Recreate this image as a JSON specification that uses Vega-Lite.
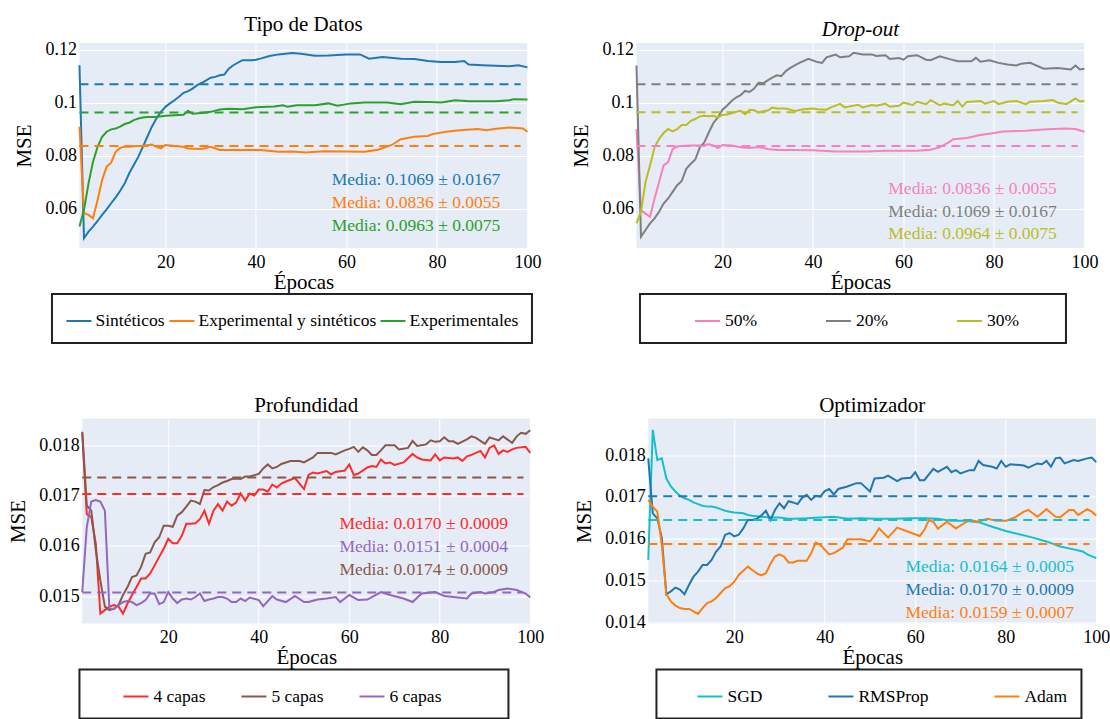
{
"$schema": "https://vega.github.io/schema/vega-lite/v6.json",
"padding": {"left": 7, "top": 13, "right": 0, "bottom": 0},
"autosize": {"type": "pad"},
"background": "white",
"datasets": {
"tipo": [
{"serie":"Sintéticos","epoca":1,"mse":0.1141},{"serie":"Sintéticos","epoca":2,"mse":0.0488},{"serie":"Sintéticos","epoca":3,"mse":0.0513},{"serie":"Sintéticos","epoca":4,"mse":0.0532},{"serie":"Sintéticos","epoca":5,"mse":0.0553},{"serie":"Sintéticos","epoca":6,"mse":0.0576},{"serie":"Sintéticos","epoca":7,"mse":0.0597},{"serie":"Sintéticos","epoca":8,"mse":0.062},{"serie":"Sintéticos","epoca":9,"mse":0.0642},{"serie":"Sintéticos","epoca":10,"mse":0.0667},{"serie":"Sintéticos","epoca":11,"mse":0.0695},{"serie":"Sintéticos","epoca":12,"mse":0.0733},{"serie":"Sintéticos","epoca":13,"mse":0.0764},{"serie":"Sintéticos","epoca":14,"mse":0.0795},{"serie":"Sintéticos","epoca":15,"mse":0.0833},{"serie":"Sintéticos","epoca":16,"mse":0.0871},{"serie":"Sintéticos","epoca":17,"mse":0.0909},{"serie":"Sintéticos","epoca":18,"mse":0.094},{"serie":"Sintéticos","epoca":19,"mse":0.0965},{"serie":"Sintéticos","epoca":20,"mse":0.0984},{"serie":"Sintéticos","epoca":21,"mse":0.0997},{"serie":"Sintéticos","epoca":22,"mse":0.1009},{"serie":"Sintéticos","epoca":23,"mse":0.1022},{"serie":"Sintéticos","epoca":24,"mse":0.1037},{"serie":"Sintéticos","epoca":25,"mse":0.1043},{"serie":"Sintéticos","epoca":26,"mse":0.1053},{"serie":"Sintéticos","epoca":27,"mse":0.1066},{"serie":"Sintéticos","epoca":28,"mse":0.1074},{"serie":"Sintéticos","epoca":29,"mse":0.1084},{"serie":"Sintéticos","epoca":30,"mse":0.1094},{"serie":"Sintéticos","epoca":31,"mse":0.1097},{"serie":"Sintéticos","epoca":32,"mse":0.1103},{"serie":"Sintéticos","epoca":33,"mse":0.1106},{"serie":"Sintéticos","epoca":34,"mse":0.1128},{"serie":"Sintéticos","epoca":35,"mse":0.1141},{"serie":"Sintéticos","epoca":37,"mse":0.116},{"serie":"Sintéticos","epoca":39,"mse":0.116},{"serie":"Sintéticos","epoca":40,"mse":0.1162},{"serie":"Sintéticos","epoca":41,"mse":0.1166},{"serie":"Sintéticos","epoca":43,"mse":0.1176},{"serie":"Sintéticos","epoca":45,"mse":0.1182},{"serie":"Sintéticos","epoca":48,"mse":0.1187},{"serie":"Sintéticos","epoca":50,"mse":0.1184},{"serie":"Sintéticos","epoca":53,"mse":0.1177},{"serie":"Sintéticos","epoca":56,"mse":0.1178},{"serie":"Sintéticos","epoca":60,"mse":0.1182},{"serie":"Sintéticos","epoca":63,"mse":0.1182},{"serie":"Sintéticos","epoca":65,"mse":0.1166},{"serie":"Sintéticos","epoca":68,"mse":0.1172},{"serie":"Sintéticos","epoca":72,"mse":0.1166},{"serie":"Sintéticos","epoca":75,"mse":0.1165},{"serie":"Sintéticos","epoca":78,"mse":0.1157},{"serie":"Sintéticos","epoca":81,"mse":0.1153},{"serie":"Sintéticos","epoca":84,"mse":0.1153},{"serie":"Sintéticos","epoca":86,"mse":0.1157},{"serie":"Sintéticos","epoca":87,"mse":0.1144},{"serie":"Sintéticos","epoca":90,"mse":0.1141},{"serie":"Sintéticos","epoca":93,"mse":0.1139},{"serie":"Sintéticos","epoca":96,"mse":0.1137},{"serie":"Sintéticos","epoca":98,"mse":0.1141},{"serie":"Sintéticos","epoca":100,"mse":0.1133},
{"serie":"Experimental y sintéticos","epoca":1,"mse":0.0909},{"serie":"Experimental y sintéticos","epoca":2,"mse":0.0582},{"serie":"Experimental y sintéticos","epoca":3,"mse":0.0576},{"serie":"Experimental y sintéticos","epoca":4,"mse":0.0563},{"serie":"Experimental y sintéticos","epoca":5,"mse":0.0632},{"serie":"Experimental y sintéticos","epoca":6,"mse":0.0708},{"serie":"Experimental y sintéticos","epoca":7,"mse":0.0758},{"serie":"Experimental y sintéticos","epoca":8,"mse":0.0773},{"serie":"Experimental y sintéticos","epoca":9,"mse":0.0814},{"serie":"Experimental y sintéticos","epoca":10,"mse":0.0829},{"serie":"Experimental y sintéticos","epoca":11,"mse":0.0833},{"serie":"Experimental y sintéticos","epoca":12,"mse":0.0833},{"serie":"Experimental y sintéticos","epoca":13,"mse":0.0835},{"serie":"Experimental y sintéticos","epoca":15,"mse":0.0837},{"serie":"Experimental y sintéticos","epoca":17,"mse":0.0842},{"serie":"Experimental y sintéticos","epoca":18,"mse":0.0833},{"serie":"Experimental y sintéticos","epoca":19,"mse":0.0827},{"serie":"Experimental y sintéticos","epoca":20,"mse":0.084},{"serie":"Experimental y sintéticos","epoca":22,"mse":0.0836},{"serie":"Experimental y sintéticos","epoca":24,"mse":0.0833},{"serie":"Experimental y sintéticos","epoca":25,"mse":0.0827},{"serie":"Experimental y sintéticos","epoca":28,"mse":0.0825},{"serie":"Experimental y sintéticos","epoca":30,"mse":0.0833},{"serie":"Experimental y sintéticos","epoca":32,"mse":0.0821},{"serie":"Experimental y sintéticos","epoca":35,"mse":0.0821},{"serie":"Experimental y sintéticos","epoca":38,"mse":0.0821},{"serie":"Experimental y sintéticos","epoca":41,"mse":0.0821},{"serie":"Experimental y sintéticos","epoca":45,"mse":0.0814},{"serie":"Experimental y sintéticos","epoca":48,"mse":0.0815},{"serie":"Experimental y sintéticos","epoca":51,"mse":0.0812},{"serie":"Experimental y sintéticos","epoca":55,"mse":0.0816},{"serie":"Experimental y sintéticos","epoca":60,"mse":0.0815},{"serie":"Experimental y sintéticos","epoca":64,"mse":0.0814},{"serie":"Experimental y sintéticos","epoca":67,"mse":0.0822},{"serie":"Experimental y sintéticos","epoca":70,"mse":0.084},{"serie":"Experimental y sintéticos","epoca":72,"mse":0.0862},{"serie":"Experimental y sintéticos","epoca":75,"mse":0.0871},{"serie":"Experimental y sintéticos","epoca":78,"mse":0.0874},{"serie":"Experimental y sintéticos","epoca":79,"mse":0.0881},{"serie":"Experimental y sintéticos","epoca":82,"mse":0.089},{"serie":"Experimental y sintéticos","epoca":85,"mse":0.0896},{"serie":"Experimental y sintéticos","epoca":89,"mse":0.09},{"serie":"Experimental y sintéticos","epoca":91,"mse":0.0896},{"serie":"Experimental y sintéticos","epoca":93,"mse":0.0901},{"serie":"Experimental y sintéticos","epoca":96,"mse":0.0906},{"serie":"Experimental y sintéticos","epoca":99,"mse":0.0902},{"serie":"Experimental y sintéticos","epoca":100,"mse":0.089},
{"serie":"Experimentales","epoca":1,"mse":0.0532},{"serie":"Experimentales","epoca":2,"mse":0.0595},{"serie":"Experimentales","epoca":3,"mse":0.0695},{"serie":"Experimentales","epoca":4,"mse":0.0777},{"serie":"Experimentales","epoca":5,"mse":0.0833},{"serie":"Experimentales","epoca":6,"mse":0.0871},{"serie":"Experimentales","epoca":7,"mse":0.089},{"serie":"Experimentales","epoca":8,"mse":0.0899},{"serie":"Experimentales","epoca":9,"mse":0.0902},{"serie":"Experimentales","epoca":10,"mse":0.0909},{"serie":"Experimentales","epoca":11,"mse":0.0919},{"serie":"Experimentales","epoca":12,"mse":0.0924},{"serie":"Experimentales","epoca":13,"mse":0.0934},{"serie":"Experimentales","epoca":14,"mse":0.094},{"serie":"Experimentales","epoca":15,"mse":0.0944},{"serie":"Experimentales","epoca":16,"mse":0.0946},{"serie":"Experimentales","epoca":18,"mse":0.0946},{"serie":"Experimentales","epoca":20,"mse":0.095},{"serie":"Experimentales","epoca":22,"mse":0.0952},{"serie":"Experimentales","epoca":24,"mse":0.0954},{"serie":"Experimentales","epoca":25,"mse":0.0969},{"serie":"Experimentales","epoca":26,"mse":0.0958},{"serie":"Experimentales","epoca":28,"mse":0.0961},{"serie":"Experimentales","epoca":30,"mse":0.0965},{"serie":"Experimentales","epoca":32,"mse":0.0974},{"serie":"Experimentales","epoca":34,"mse":0.0977},{"serie":"Experimentales","epoca":37,"mse":0.0975},{"serie":"Experimentales","epoca":40,"mse":0.0982},{"serie":"Experimentales","epoca":44,"mse":0.0985},{"serie":"Experimentales","epoca":46,"mse":0.099},{"serie":"Experimentales","epoca":47,"mse":0.0984},{"serie":"Experimentales","epoca":49,"mse":0.099},{"serie":"Experimentales","epoca":53,"mse":0.099},{"serie":"Experimentales","epoca":56,"mse":0.0997},{"serie":"Experimentales","epoca":58,"mse":0.0988},{"serie":"Experimentales","epoca":61,"mse":0.0997},{"serie":"Experimentales","epoca":64,"mse":0.1},{"serie":"Experimentales","epoca":66,"mse":0.1},{"serie":"Experimentales","epoca":69,"mse":0.1},{"serie":"Experimentales","epoca":72,"mse":0.0994},{"serie":"Experimentales","epoca":75,"mse":0.1003},{"serie":"Experimentales","epoca":78,"mse":0.1002},{"serie":"Experimentales","epoca":81,"mse":0.1},{"serie":"Experimentales","epoca":84,"mse":0.1009},{"serie":"Experimentales","epoca":87,"mse":0.1005},{"serie":"Experimentales","epoca":90,"mse":0.1005},{"serie":"Experimentales","epoca":93,"mse":0.1005},{"serie":"Experimentales","epoca":96,"mse":0.1009},{"serie":"Experimentales","epoca":97,"mse":0.1013},{"serie":"Experimentales","epoca":100,"mse":0.1012}
],
"tipo_media": [
{"serie":"Sintéticos","media":0.1069,"etiqueta":"Media: 0.1069 ± 0.0167"},
{"serie":"Experimental y sintéticos","media":0.0836,"etiqueta":"Media: 0.0836 ± 0.0055"},
{"serie":"Experimentales","media":0.0963,"etiqueta":"Media: 0.0963 ± 0.0075"}
],
"drop": [
{"serie":"50%","epoca":1,"mse":0.09},{"serie":"50%","epoca":2,"mse":0.0594},{"serie":"50%","epoca":3,"mse":0.0581},{"serie":"50%","epoca":4,"mse":0.0569},{"serie":"50%","epoca":5,"mse":0.0638},{"serie":"50%","epoca":6,"mse":0.07},{"serie":"50%","epoca":7,"mse":0.0763},{"serie":"50%","epoca":8,"mse":0.0775},{"serie":"50%","epoca":9,"mse":0.0825},{"serie":"50%","epoca":10,"mse":0.0834},{"serie":"50%","epoca":11,"mse":0.0836},{"serie":"50%","epoca":13,"mse":0.0838},{"serie":"50%","epoca":15,"mse":0.0838},{"serie":"50%","epoca":17,"mse":0.0843},{"serie":"50%","epoca":18,"mse":0.0838},{"serie":"50%","epoca":19,"mse":0.0828},{"serie":"50%","epoca":20,"mse":0.084},{"serie":"50%","epoca":22,"mse":0.0838},{"serie":"50%","epoca":24,"mse":0.0831},{"serie":"50%","epoca":26,"mse":0.0829},{"serie":"50%","epoca":28,"mse":0.0832},{"serie":"50%","epoca":30,"mse":0.0825},{"serie":"50%","epoca":32,"mse":0.0821},{"serie":"50%","epoca":35,"mse":0.0821},{"serie":"50%","epoca":40,"mse":0.082},{"serie":"50%","epoca":45,"mse":0.0815},{"serie":"50%","epoca":52,"mse":0.0815},{"serie":"50%","epoca":56,"mse":0.0818},{"serie":"50%","epoca":63,"mse":0.0818},{"serie":"50%","epoca":66,"mse":0.0822},{"serie":"50%","epoca":68,"mse":0.0831},{"serie":"50%","epoca":70,"mse":0.085},{"serie":"50%","epoca":71,"mse":0.0862},{"serie":"50%","epoca":74,"mse":0.0866},{"serie":"50%","epoca":77,"mse":0.0878},{"serie":"50%","epoca":80,"mse":0.0885},{"serie":"50%","epoca":82,"mse":0.0891},{"serie":"50%","epoca":87,"mse":0.0894},{"serie":"50%","epoca":90,"mse":0.0897},{"serie":"50%","epoca":93,"mse":0.09},{"serie":"50%","epoca":96,"mse":0.0902},{"serie":"50%","epoca":98,"mse":0.09},{"serie":"50%","epoca":100,"mse":0.089},
{"serie":"20%","epoca":1,"mse":0.114},{"serie":"20%","epoca":2,"mse":0.0494},{"serie":"20%","epoca":3,"mse":0.0519},{"serie":"20%","epoca":4,"mse":0.0544},{"serie":"20%","epoca":5,"mse":0.0563},{"serie":"20%","epoca":6,"mse":0.0588},{"serie":"20%","epoca":7,"mse":0.0619},{"serie":"20%","epoca":8,"mse":0.0638},{"serie":"20%","epoca":9,"mse":0.0663},{"serie":"20%","epoca":10,"mse":0.0688},{"serie":"20%","epoca":11,"mse":0.0704},{"serie":"20%","epoca":12,"mse":0.075},{"serie":"20%","epoca":13,"mse":0.0769},{"serie":"20%","epoca":14,"mse":0.0785},{"serie":"20%","epoca":15,"mse":0.0831},{"serie":"20%","epoca":16,"mse":0.085},{"serie":"20%","epoca":17,"mse":0.0888},{"serie":"20%","epoca":18,"mse":0.0923},{"serie":"20%","epoca":19,"mse":0.0944},{"serie":"20%","epoca":20,"mse":0.0973},{"serie":"20%","epoca":21,"mse":0.0988},{"serie":"20%","epoca":22,"mse":0.1006},{"serie":"20%","epoca":23,"mse":0.1019},{"serie":"20%","epoca":24,"mse":0.1028},{"serie":"20%","epoca":25,"mse":0.1044},{"serie":"20%","epoca":26,"mse":0.104},{"serie":"20%","epoca":27,"mse":0.1053},{"serie":"20%","epoca":28,"mse":0.1075},{"serie":"20%","epoca":29,"mse":0.1073},{"serie":"20%","epoca":30,"mse":0.1084},{"serie":"20%","epoca":31,"mse":0.1094},{"serie":"20%","epoca":32,"mse":0.1103},{"serie":"20%","epoca":33,"mse":0.11},{"serie":"20%","epoca":34,"mse":0.1119},{"serie":"20%","epoca":35,"mse":0.1131},{"serie":"20%","epoca":37,"mse":0.115},{"serie":"20%","epoca":39,"mse":0.1165},{"serie":"20%","epoca":41,"mse":0.1153},{"serie":"20%","epoca":42,"mse":0.115},{"serie":"20%","epoca":43,"mse":0.1171},{"serie":"20%","epoca":45,"mse":0.1181},{"serie":"20%","epoca":46,"mse":0.1171},{"serie":"20%","epoca":48,"mse":0.1175},{"serie":"20%","epoca":49,"mse":0.1188},{"serie":"20%","epoca":51,"mse":0.1182},{"serie":"20%","epoca":53,"mse":0.1182},{"serie":"20%","epoca":54,"mse":0.1176},{"serie":"20%","epoca":56,"mse":0.1179},{"serie":"20%","epoca":57,"mse":0.1165},{"serie":"20%","epoca":59,"mse":0.1168},{"serie":"20%","epoca":60,"mse":0.1162},{"serie":"20%","epoca":61,"mse":0.1175},{"serie":"20%","epoca":63,"mse":0.1179},{"serie":"20%","epoca":65,"mse":0.1162},{"serie":"20%","epoca":66,"mse":0.116},{"serie":"20%","epoca":68,"mse":0.1175},{"serie":"20%","epoca":70,"mse":0.1165},{"serie":"20%","epoca":72,"mse":0.1156},{"serie":"20%","epoca":75,"mse":0.1156},{"serie":"20%","epoca":76,"mse":0.1169},{"serie":"20%","epoca":77,"mse":0.1154},{"serie":"20%","epoca":79,"mse":0.116},{"serie":"20%","epoca":81,"mse":0.115},{"serie":"20%","epoca":83,"mse":0.1144},{"serie":"20%","epoca":85,"mse":0.114},{"serie":"20%","epoca":86,"mse":0.1147},{"serie":"20%","epoca":88,"mse":0.115},{"serie":"20%","epoca":91,"mse":0.1128},{"serie":"20%","epoca":94,"mse":0.1131},{"serie":"20%","epoca":97,"mse":0.1125},{"serie":"20%","epoca":98,"mse":0.114},{"serie":"20%","epoca":99,"mse":0.1125},{"serie":"20%","epoca":100,"mse":0.1128},
{"serie":"30%","epoca":1,"mse":0.0544},{"serie":"30%","epoca":2,"mse":0.0588},{"serie":"30%","epoca":3,"mse":0.07},{"serie":"30%","epoca":4,"mse":0.0763},{"serie":"30%","epoca":5,"mse":0.0831},{"serie":"30%","epoca":6,"mse":0.0863},{"serie":"30%","epoca":7,"mse":0.0885},{"serie":"30%","epoca":8,"mse":0.09},{"serie":"30%","epoca":9,"mse":0.0891},{"serie":"30%","epoca":10,"mse":0.09},{"serie":"30%","epoca":11,"mse":0.0915},{"serie":"30%","epoca":12,"mse":0.0915},{"serie":"30%","epoca":13,"mse":0.0931},{"serie":"30%","epoca":14,"mse":0.0938},{"serie":"30%","epoca":15,"mse":0.0948},{"serie":"30%","epoca":16,"mse":0.095},{"serie":"30%","epoca":17,"mse":0.0948},{"serie":"30%","epoca":18,"mse":0.095},{"serie":"30%","epoca":19,"mse":0.0944},{"serie":"30%","epoca":20,"mse":0.0953},{"serie":"30%","epoca":21,"mse":0.0955},{"serie":"30%","epoca":22,"mse":0.096},{"serie":"30%","epoca":23,"mse":0.0965},{"serie":"30%","epoca":24,"mse":0.0969},{"serie":"30%","epoca":25,"mse":0.0956},{"serie":"30%","epoca":26,"mse":0.0973},{"serie":"30%","epoca":27,"mse":0.0971},{"serie":"30%","epoca":28,"mse":0.0963},{"serie":"30%","epoca":29,"mse":0.0967},{"serie":"30%","epoca":30,"mse":0.097},{"serie":"30%","epoca":31,"mse":0.0981},{"serie":"30%","epoca":32,"mse":0.0978},{"serie":"30%","epoca":34,"mse":0.0978},{"serie":"30%","epoca":36,"mse":0.0968},{"serie":"30%","epoca":38,"mse":0.0975},{"serie":"30%","epoca":40,"mse":0.0978},{"serie":"30%","epoca":41,"mse":0.0975},{"serie":"30%","epoca":43,"mse":0.0973},{"serie":"30%","epoca":44,"mse":0.0982},{"serie":"30%","epoca":46,"mse":0.0995},{"serie":"30%","epoca":47,"mse":0.0982},{"serie":"30%","epoca":50,"mse":0.0992},{"serie":"30%","epoca":51,"mse":0.0982},{"serie":"30%","epoca":53,"mse":0.0991},{"serie":"30%","epoca":54,"mse":0.0988},{"serie":"30%","epoca":56,"mse":0.0996},{"serie":"30%","epoca":57,"mse":0.0984},{"serie":"30%","epoca":59,"mse":0.0988},{"serie":"30%","epoca":60,"mse":0.1},{"serie":"30%","epoca":62,"mse":0.0991},{"serie":"30%","epoca":63,"mse":0.1003},{"serie":"30%","epoca":65,"mse":0.0994},{"serie":"30%","epoca":66,"mse":0.1009},{"serie":"30%","epoca":68,"mse":0.099},{"serie":"30%","epoca":69,"mse":0.0996},{"serie":"30%","epoca":71,"mse":0.099},{"serie":"30%","epoca":72,"mse":0.1006},{"serie":"30%","epoca":73,"mse":0.0985},{"serie":"30%","epoca":74,"mse":0.1003},{"serie":"30%","epoca":75,"mse":0.1003},{"serie":"30%","epoca":77,"mse":0.1006},{"serie":"30%","epoca":78,"mse":0.0996},{"serie":"30%","epoca":80,"mse":0.1006},{"serie":"30%","epoca":81,"mse":0.0994},{"serie":"30%","epoca":83,"mse":0.1003},{"serie":"30%","epoca":85,"mse":0.1006},{"serie":"30%","epoca":87,"mse":0.0994},{"serie":"30%","epoca":88,"mse":0.1003},{"serie":"30%","epoca":91,"mse":0.1006},{"serie":"30%","epoca":93,"mse":0.101},{"serie":"30%","epoca":94,"mse":0.1},{"serie":"30%","epoca":96,"mse":0.0994},{"serie":"30%","epoca":98,"mse":0.1016},{"serie":"30%","epoca":99,"mse":0.1004},{"serie":"30%","epoca":100,"mse":0.1006}
],
"drop_media": [
{"serie":"50%","media":0.0836,"etiqueta":"Media: 0.0836 ± 0.0055"},
{"serie":"20%","media":0.1069,"etiqueta":"Media: 0.1069 ± 0.0167"},
{"serie":"30%","media":0.0964,"etiqueta":"Media: 0.0964 ± 0.0075"}
],
"prof": [
{"serie":"4 capas","epoca":1,"mse":0.01825},{"serie":"4 capas","epoca":2,"mse":0.01663},{"serie":"4 capas","epoca":3,"mse":0.01657},{"serie":"4 capas","epoca":4,"mse":0.01604},{"serie":"4 capas","epoca":5,"mse":0.01465},{"serie":"4 capas","epoca":6,"mse":0.01472},{"serie":"4 capas","epoca":7,"mse":0.01479},{"serie":"4 capas","epoca":8,"mse":0.01482},{"serie":"4 capas","epoca":9,"mse":0.01479},{"serie":"4 capas","epoca":10,"mse":0.01465},{"serie":"4 capas","epoca":11,"mse":0.01485},{"serie":"4 capas","epoca":12,"mse":0.01502},{"serie":"4 capas","epoca":13,"mse":0.01518},{"serie":"4 capas","epoca":14,"mse":0.01535},{"serie":"4 capas","epoca":15,"mse":0.01535},{"serie":"4 capas","epoca":16,"mse":0.01545},{"serie":"4 capas","epoca":17,"mse":0.01561},{"serie":"4 capas","epoca":18,"mse":0.01578},{"serie":"4 capas","epoca":19,"mse":0.01594},{"serie":"4 capas","epoca":20,"mse":0.01614},{"serie":"4 capas","epoca":21,"mse":0.01605},{"serie":"4 capas","epoca":22,"mse":0.01605},{"serie":"4 capas","epoca":23,"mse":0.0162},{"serie":"4 capas","epoca":24,"mse":0.01644},{"serie":"4 capas","epoca":25,"mse":0.01644},{"serie":"4 capas","epoca":26,"mse":0.01645},{"serie":"4 capas","epoca":27,"mse":0.01653},{"serie":"4 capas","epoca":28,"mse":0.0167},{"serie":"4 capas","epoca":29,"mse":0.01644},{"serie":"4 capas","epoca":30,"mse":0.0167},{"serie":"4 capas","epoca":31,"mse":0.01683},{"serie":"4 capas","epoca":32,"mse":0.0167},{"serie":"4 capas","epoca":33,"mse":0.01688},{"serie":"4 capas","epoca":34,"mse":0.0168},{"serie":"4 capas","epoca":35,"mse":0.01686},{"serie":"4 capas","epoca":36,"mse":0.01704},{"serie":"4 capas","epoca":37,"mse":0.0169},{"serie":"4 capas","epoca":38,"mse":0.01704},{"serie":"4 capas","epoca":39,"mse":0.017},{"serie":"4 capas","epoca":40,"mse":0.01712},{"serie":"4 capas","epoca":41,"mse":0.01712},{"serie":"4 capas","epoca":42,"mse":0.01708},{"serie":"4 capas","epoca":43,"mse":0.01722},{"serie":"4 capas","epoca":44,"mse":0.01716},{"serie":"4 capas","epoca":45,"mse":0.01724},{"serie":"4 capas","epoca":46,"mse":0.01728},{"serie":"4 capas","epoca":48,"mse":0.01735},{"serie":"4 capas","epoca":50,"mse":0.01713},{"serie":"4 capas","epoca":51,"mse":0.01741},{"serie":"4 capas","epoca":52,"mse":0.01746},{"serie":"4 capas","epoca":53,"mse":0.01744},{"serie":"4 capas","epoca":55,"mse":0.01749},{"serie":"4 capas","epoca":56,"mse":0.01742},{"serie":"4 capas","epoca":57,"mse":0.01747},{"serie":"4 capas","epoca":59,"mse":0.0175},{"serie":"4 capas","epoca":60,"mse":0.01762},{"serie":"4 capas","epoca":61,"mse":0.01741},{"serie":"4 capas","epoca":62,"mse":0.01744},{"serie":"4 capas","epoca":64,"mse":0.01756},{"serie":"4 capas","epoca":65,"mse":0.01759},{"serie":"4 capas","epoca":66,"mse":0.01757},{"serie":"4 capas","epoca":67,"mse":0.01772},{"serie":"4 capas","epoca":68,"mse":0.01764},{"serie":"4 capas","epoca":69,"mse":0.01766},{"serie":"4 capas","epoca":70,"mse":0.01761},{"serie":"4 capas","epoca":72,"mse":0.01766},{"serie":"4 capas","epoca":74,"mse":0.01783},{"serie":"4 capas","epoca":75,"mse":0.01776},{"serie":"4 capas","epoca":76,"mse":0.01772},{"serie":"4 capas","epoca":78,"mse":0.0177},{"serie":"4 capas","epoca":79,"mse":0.01782},{"serie":"4 capas","epoca":80,"mse":0.0177},{"serie":"4 capas","epoca":81,"mse":0.01776},{"serie":"4 capas","epoca":83,"mse":0.01774},{"serie":"4 capas","epoca":84,"mse":0.01776},{"serie":"4 capas","epoca":85,"mse":0.01769},{"serie":"4 capas","epoca":86,"mse":0.01778},{"serie":"4 capas","epoca":87,"mse":0.01781},{"serie":"4 capas","epoca":89,"mse":0.01789},{"serie":"4 capas","epoca":90,"mse":0.01776},{"serie":"4 capas","epoca":91,"mse":0.01795},{"serie":"4 capas","epoca":92,"mse":0.018},{"serie":"4 capas","epoca":93,"mse":0.01783},{"serie":"4 capas","epoca":94,"mse":0.0179},{"serie":"4 capas","epoca":95,"mse":0.01787},{"serie":"4 capas","epoca":96,"mse":0.01792},{"serie":"4 capas","epoca":97,"mse":0.01795},{"serie":"4 capas","epoca":99,"mse":0.01797},{"serie":"4 capas","epoca":100,"mse":0.01785},
{"serie":"5 capas","epoca":1,"mse":0.01827},{"serie":"5 capas","epoca":2,"mse":0.0168},{"serie":"5 capas","epoca":3,"mse":0.0167},{"serie":"5 capas","epoca":4,"mse":0.01591},{"serie":"5 capas","epoca":5,"mse":0.01531},{"serie":"5 capas","epoca":6,"mse":0.01479},{"serie":"5 capas","epoca":7,"mse":0.01472},{"serie":"5 capas","epoca":8,"mse":0.01475},{"serie":"5 capas","epoca":9,"mse":0.01482},{"serie":"5 capas","epoca":10,"mse":0.01502},{"serie":"5 capas","epoca":11,"mse":0.01518},{"serie":"5 capas","epoca":12,"mse":0.01538},{"serie":"5 capas","epoca":13,"mse":0.01541},{"serie":"5 capas","epoca":14,"mse":0.01558},{"serie":"5 capas","epoca":15,"mse":0.01584},{"serie":"5 capas","epoca":16,"mse":0.01587},{"serie":"5 capas","epoca":17,"mse":0.01607},{"serie":"5 capas","epoca":18,"mse":0.01617},{"serie":"5 capas","epoca":19,"mse":0.0164},{"serie":"5 capas","epoca":20,"mse":0.0164},{"serie":"5 capas","epoca":21,"mse":0.01638},{"serie":"5 capas","epoca":22,"mse":0.0166},{"serie":"5 capas","epoca":23,"mse":0.01667},{"serie":"5 capas","epoca":24,"mse":0.01678},{"serie":"5 capas","epoca":25,"mse":0.0169},{"serie":"5 capas","epoca":26,"mse":0.01688},{"serie":"5 capas","epoca":27,"mse":0.01683},{"serie":"5 capas","epoca":28,"mse":0.01711},{"serie":"5 capas","epoca":29,"mse":0.0171},{"serie":"5 capas","epoca":30,"mse":0.01717},{"serie":"5 capas","epoca":31,"mse":0.01721},{"serie":"5 capas","epoca":32,"mse":0.01726},{"serie":"5 capas","epoca":33,"mse":0.01729},{"serie":"5 capas","epoca":34,"mse":0.01733},{"serie":"5 capas","epoca":35,"mse":0.01734},{"serie":"5 capas","epoca":36,"mse":0.01733},{"serie":"5 capas","epoca":37,"mse":0.01738},{"serie":"5 capas","epoca":38,"mse":0.01738},{"serie":"5 capas","epoca":40,"mse":0.01743},{"serie":"5 capas","epoca":41,"mse":0.01754},{"serie":"5 capas","epoca":42,"mse":0.01762},{"serie":"5 capas","epoca":43,"mse":0.01754},{"serie":"5 capas","epoca":44,"mse":0.01757},{"serie":"5 capas","epoca":45,"mse":0.01763},{"serie":"5 capas","epoca":47,"mse":0.01769},{"serie":"5 capas","epoca":49,"mse":0.01769},{"serie":"5 capas","epoca":50,"mse":0.01766},{"serie":"5 capas","epoca":52,"mse":0.01776},{"serie":"5 capas","epoca":53,"mse":0.01785},{"serie":"5 capas","epoca":55,"mse":0.01785},{"serie":"5 capas","epoca":56,"mse":0.01785},{"serie":"5 capas","epoca":57,"mse":0.01782},{"serie":"5 capas","epoca":59,"mse":0.0179},{"serie":"5 capas","epoca":60,"mse":0.01793},{"serie":"5 capas","epoca":61,"mse":0.01797},{"serie":"5 capas","epoca":62,"mse":0.01787},{"serie":"5 capas","epoca":63,"mse":0.01796},{"serie":"5 capas","epoca":64,"mse":0.0179},{"serie":"5 capas","epoca":65,"mse":0.01781},{"serie":"5 capas","epoca":66,"mse":0.01781},{"serie":"5 capas","epoca":67,"mse":0.0179},{"serie":"5 capas","epoca":68,"mse":0.018},{"serie":"5 capas","epoca":70,"mse":0.018},{"serie":"5 capas","epoca":71,"mse":0.01792},{"serie":"5 capas","epoca":73,"mse":0.01795},{"serie":"5 capas","epoca":74,"mse":0.01809},{"serie":"5 capas","epoca":75,"mse":0.01799},{"serie":"5 capas","epoca":77,"mse":0.01802},{"serie":"5 capas","epoca":78,"mse":0.0181},{"serie":"5 capas","epoca":79,"mse":0.01807},{"serie":"5 capas","epoca":80,"mse":0.01808},{"serie":"5 capas","epoca":81,"mse":0.01816},{"serie":"5 capas","epoca":82,"mse":0.01808},{"serie":"5 capas","epoca":83,"mse":0.01808},{"serie":"5 capas","epoca":84,"mse":0.01803},{"serie":"5 capas","epoca":86,"mse":0.01812},{"serie":"5 capas","epoca":87,"mse":0.01818},{"serie":"5 capas","epoca":88,"mse":0.01815},{"serie":"5 capas","epoca":90,"mse":0.01803},{"serie":"5 capas","epoca":91,"mse":0.01816},{"serie":"5 capas","epoca":93,"mse":0.0181},{"serie":"5 capas","epoca":94,"mse":0.01818},{"serie":"5 capas","epoca":96,"mse":0.01805},{"serie":"5 capas","epoca":97,"mse":0.01818},{"serie":"5 capas","epoca":98,"mse":0.01825},{"serie":"5 capas","epoca":99,"mse":0.01823},{"serie":"5 capas","epoca":100,"mse":0.0183},
{"serie":"6 capas","epoca":1,"mse":0.01508},{"serie":"6 capas","epoca":2,"mse":0.01637},{"serie":"6 capas","epoca":3,"mse":0.01688},{"serie":"6 capas","epoca":4,"mse":0.01691},{"serie":"6 capas","epoca":5,"mse":0.01688},{"serie":"6 capas","epoca":6,"mse":0.0167},{"serie":"6 capas","epoca":7,"mse":0.01475},{"serie":"6 capas","epoca":8,"mse":0.01474},{"serie":"6 capas","epoca":9,"mse":0.01482},{"serie":"6 capas","epoca":10,"mse":0.01488},{"serie":"6 capas","epoca":11,"mse":0.0149},{"serie":"6 capas","epoca":12,"mse":0.01488},{"serie":"6 capas","epoca":13,"mse":0.01482},{"serie":"6 capas","epoca":14,"mse":0.01486},{"serie":"6 capas","epoca":15,"mse":0.01492},{"serie":"6 capas","epoca":16,"mse":0.01505},{"serie":"6 capas","epoca":17,"mse":0.01505},{"serie":"6 capas","epoca":18,"mse":0.01484},{"serie":"6 capas","epoca":19,"mse":0.01488},{"serie":"6 capas","epoca":20,"mse":0.01508},{"serie":"6 capas","epoca":21,"mse":0.01495},{"serie":"6 capas","epoca":22,"mse":0.01486},{"serie":"6 capas","epoca":23,"mse":0.01493},{"serie":"6 capas","epoca":24,"mse":0.01495},{"serie":"6 capas","epoca":25,"mse":0.01493},{"serie":"6 capas","epoca":26,"mse":0.01498},{"serie":"6 capas","epoca":27,"mse":0.01505},{"serie":"6 capas","epoca":28,"mse":0.0149},{"serie":"6 capas","epoca":29,"mse":0.01493},{"serie":"6 capas","epoca":30,"mse":0.01495},{"serie":"6 capas","epoca":31,"mse":0.01498},{"serie":"6 capas","epoca":32,"mse":0.01498},{"serie":"6 capas","epoca":33,"mse":0.01495},{"serie":"6 capas","epoca":34,"mse":0.01488},{"serie":"6 capas","epoca":35,"mse":0.01488},{"serie":"6 capas","epoca":36,"mse":0.01495},{"serie":"6 capas","epoca":37,"mse":0.0149},{"serie":"6 capas","epoca":38,"mse":0.01497},{"serie":"6 capas","epoca":40,"mse":0.01492},{"serie":"6 capas","epoca":41,"mse":0.0148},{"serie":"6 capas","epoca":43,"mse":0.015},{"serie":"6 capas","epoca":44,"mse":0.01493},{"serie":"6 capas","epoca":46,"mse":0.01488},{"serie":"6 capas","epoca":48,"mse":0.015},{"serie":"6 capas","epoca":50,"mse":0.01488},{"serie":"6 capas","epoca":51,"mse":0.01488},{"serie":"6 capas","epoca":53,"mse":0.01493},{"serie":"6 capas","epoca":55,"mse":0.01495},{"serie":"6 capas","epoca":57,"mse":0.01498},{"serie":"6 capas","epoca":58,"mse":0.01488},{"serie":"6 capas","epoca":59,"mse":0.01495},{"serie":"6 capas","epoca":60,"mse":0.01502},{"serie":"6 capas","epoca":62,"mse":0.01492},{"serie":"6 capas","epoca":64,"mse":0.01493},{"serie":"6 capas","epoca":65,"mse":0.01498},{"serie":"6 capas","epoca":67,"mse":0.01508},{"serie":"6 capas","epoca":69,"mse":0.01502},{"serie":"6 capas","epoca":72,"mse":0.01495},{"serie":"6 capas","epoca":74,"mse":0.01488},{"serie":"6 capas","epoca":76,"mse":0.01505},{"serie":"6 capas","epoca":79,"mse":0.01508},{"serie":"6 capas","epoca":81,"mse":0.015},{"serie":"6 capas","epoca":83,"mse":0.01498},{"serie":"6 capas","epoca":86,"mse":0.01495},{"serie":"6 capas","epoca":87,"mse":0.01505},{"serie":"6 capas","epoca":89,"mse":0.01508},{"serie":"6 capas","epoca":90,"mse":0.01505},{"serie":"6 capas","epoca":92,"mse":0.01508},{"serie":"6 capas","epoca":93,"mse":0.01512},{"serie":"6 capas","epoca":95,"mse":0.01515},{"serie":"6 capas","epoca":97,"mse":0.01512},{"serie":"6 capas","epoca":99,"mse":0.01505},{"serie":"6 capas","epoca":100,"mse":0.01497}
],
"prof_media": [
{"serie":"4 capas","media":0.01703,"etiqueta":"Media: 0.0170 ± 0.0009"},
{"serie":"6 capas","media":0.01507,"etiqueta":"Media: 0.0151 ± 0.0004"},
{"serie":"5 capas","media":0.01736,"etiqueta":"Media: 0.0174 ± 0.0009"}
],
"opt": [
{"serie":"SGD","epoca":1,"mse":0.0155},{"serie":"SGD","epoca":2,"mse":0.0186},{"serie":"SGD","epoca":3,"mse":0.01788},{"serie":"SGD","epoca":4,"mse":0.01792},{"serie":"SGD","epoca":5,"mse":0.01744},{"serie":"SGD","epoca":6,"mse":0.01725},{"serie":"SGD","epoca":7,"mse":0.01713},{"serie":"SGD","epoca":8,"mse":0.01703},{"serie":"SGD","epoca":9,"mse":0.01697},{"serie":"SGD","epoca":10,"mse":0.01693},{"serie":"SGD","epoca":11,"mse":0.01687},{"serie":"SGD","epoca":12,"mse":0.01683},{"serie":"SGD","epoca":13,"mse":0.01679},{"serie":"SGD","epoca":14,"mse":0.01677},{"serie":"SGD","epoca":15,"mse":0.01677},{"serie":"SGD","epoca":16,"mse":0.01675},{"serie":"SGD","epoca":17,"mse":0.01671},{"serie":"SGD","epoca":18,"mse":0.01667},{"serie":"SGD","epoca":19,"mse":0.01665},{"serie":"SGD","epoca":20,"mse":0.01663},{"serie":"SGD","epoca":22,"mse":0.01661},{"serie":"SGD","epoca":23,"mse":0.01657},{"serie":"SGD","epoca":24,"mse":0.01655},{"serie":"SGD","epoca":26,"mse":0.01653},{"serie":"SGD","epoca":28,"mse":0.01651},{"serie":"SGD","epoca":30,"mse":0.01651},{"serie":"SGD","epoca":32,"mse":0.01648},{"serie":"SGD","epoca":33,"mse":0.01648},{"serie":"SGD","epoca":36,"mse":0.01649},{"serie":"SGD","epoca":39,"mse":0.01651},{"serie":"SGD","epoca":42,"mse":0.01653},{"serie":"SGD","epoca":45,"mse":0.01648},{"serie":"SGD","epoca":48,"mse":0.01649},{"serie":"SGD","epoca":51,"mse":0.01648},{"serie":"SGD","epoca":55,"mse":0.01648},{"serie":"SGD","epoca":59,"mse":0.01649},{"serie":"SGD","epoca":62,"mse":0.01649},{"serie":"SGD","epoca":65,"mse":0.01648},{"serie":"SGD","epoca":68,"mse":0.01643},{"serie":"SGD","epoca":71,"mse":0.01643},{"serie":"SGD","epoca":74,"mse":0.0164},{"serie":"SGD","epoca":77,"mse":0.01629},{"serie":"SGD","epoca":80,"mse":0.01619},{"serie":"SGD","epoca":83,"mse":0.01611},{"serie":"SGD","epoca":86,"mse":0.01603},{"serie":"SGD","epoca":89,"mse":0.01594},{"serie":"SGD","epoca":92,"mse":0.01582},{"serie":"SGD","epoca":95,"mse":0.01575},{"serie":"SGD","epoca":97,"mse":0.0157},{"serie":"SGD","epoca":98,"mse":0.01563},{"serie":"SGD","epoca":100,"mse":0.01554},
{"serie":"RMSProp","epoca":1,"mse":0.01792},{"serie":"RMSProp","epoca":2,"mse":0.01661},{"serie":"RMSProp","epoca":3,"mse":0.01649},{"serie":"RMSProp","epoca":4,"mse":0.01602},{"serie":"RMSProp","epoca":5,"mse":0.01468},{"serie":"RMSProp","epoca":6,"mse":0.01475},{"serie":"RMSProp","epoca":7,"mse":0.01484},{"serie":"RMSProp","epoca":8,"mse":0.01479},{"serie":"RMSProp","epoca":9,"mse":0.01468},{"serie":"RMSProp","epoca":10,"mse":0.0149},{"serie":"RMSProp","epoca":11,"mse":0.0151},{"serie":"RMSProp","epoca":12,"mse":0.01522},{"serie":"RMSProp","epoca":13,"mse":0.01538},{"serie":"RMSProp","epoca":14,"mse":0.01538},{"serie":"RMSProp","epoca":15,"mse":0.0155},{"serie":"RMSProp","epoca":16,"mse":0.0157},{"serie":"RMSProp","epoca":17,"mse":0.01582},{"serie":"RMSProp","epoca":18,"mse":0.0161},{"serie":"RMSProp","epoca":19,"mse":0.01614},{"serie":"RMSProp","epoca":20,"mse":0.01606},{"serie":"RMSProp","epoca":21,"mse":0.0161},{"serie":"RMSProp","epoca":22,"mse":0.01625},{"serie":"RMSProp","epoca":23,"mse":0.01645},{"serie":"RMSProp","epoca":24,"mse":0.01645},{"serie":"RMSProp","epoca":25,"mse":0.01648},{"serie":"RMSProp","epoca":26,"mse":0.01656},{"serie":"RMSProp","epoca":27,"mse":0.01667},{"serie":"RMSProp","epoca":28,"mse":0.01645},{"serie":"RMSProp","epoca":29,"mse":0.01669},{"serie":"RMSProp","epoca":30,"mse":0.01685},{"serie":"RMSProp","epoca":31,"mse":0.01673},{"serie":"RMSProp","epoca":32,"mse":0.0169},{"serie":"RMSProp","epoca":33,"mse":0.01687},{"serie":"RMSProp","epoca":34,"mse":0.01683},{"serie":"RMSProp","epoca":35,"mse":0.01698},{"serie":"RMSProp","epoca":36,"mse":0.01705},{"serie":"RMSProp","epoca":37,"mse":0.01693},{"serie":"RMSProp","epoca":38,"mse":0.01703},{"serie":"RMSProp","epoca":39,"mse":0.01701},{"serie":"RMSProp","epoca":40,"mse":0.01714},{"serie":"RMSProp","epoca":41,"mse":0.01719},{"serie":"RMSProp","epoca":42,"mse":0.01706},{"serie":"RMSProp","epoca":43,"mse":0.01719},{"serie":"RMSProp","epoca":45,"mse":0.01725},{"serie":"RMSProp","epoca":47,"mse":0.01733},{"serie":"RMSProp","epoca":48,"mse":0.01733},{"serie":"RMSProp","epoca":50,"mse":0.01713},{"serie":"RMSProp","epoca":51,"mse":0.01744},{"serie":"RMSProp","epoca":53,"mse":0.01746},{"serie":"RMSProp","epoca":54,"mse":0.01751},{"serie":"RMSProp","epoca":56,"mse":0.01738},{"serie":"RMSProp","epoca":57,"mse":0.01744},{"serie":"RMSProp","epoca":59,"mse":0.01746},{"serie":"RMSProp","epoca":60,"mse":0.01759},{"serie":"RMSProp","epoca":61,"mse":0.0174},{"serie":"RMSProp","epoca":62,"mse":0.0174},{"serie":"RMSProp","epoca":64,"mse":0.01767},{"serie":"RMSProp","epoca":65,"mse":0.0176},{"serie":"RMSProp","epoca":67,"mse":0.01772},{"serie":"RMSProp","epoca":68,"mse":0.01759},{"serie":"RMSProp","epoca":69,"mse":0.01764},{"serie":"RMSProp","epoca":70,"mse":0.01756},{"serie":"RMSProp","epoca":72,"mse":0.01764},{"serie":"RMSProp","epoca":73,"mse":0.01764},{"serie":"RMSProp","epoca":74,"mse":0.01786},{"serie":"RMSProp","epoca":75,"mse":0.01776},{"serie":"RMSProp","epoca":77,"mse":0.01772},{"serie":"RMSProp","epoca":78,"mse":0.01768},{"serie":"RMSProp","epoca":79,"mse":0.01786},{"serie":"RMSProp","epoca":80,"mse":0.01772},{"serie":"RMSProp","epoca":81,"mse":0.01778},{"serie":"RMSProp","epoca":83,"mse":0.01776},{"serie":"RMSProp","epoca":84,"mse":0.01775},{"serie":"RMSProp","epoca":85,"mse":0.0177},{"serie":"RMSProp","epoca":87,"mse":0.0178},{"serie":"RMSProp","epoca":88,"mse":0.01778},{"serie":"RMSProp","epoca":89,"mse":0.01786},{"serie":"RMSProp","epoca":90,"mse":0.01772},{"serie":"RMSProp","epoca":91,"mse":0.01792},{"serie":"RMSProp","epoca":92,"mse":0.01794},{"serie":"RMSProp","epoca":93,"mse":0.0178},{"serie":"RMSProp","epoca":95,"mse":0.01788},{"serie":"RMSProp","epoca":96,"mse":0.01786},{"serie":"RMSProp","epoca":98,"mse":0.01792},{"serie":"RMSProp","epoca":99,"mse":0.01794},{"serie":"RMSProp","epoca":100,"mse":0.01783},
{"serie":"Adam","epoca":1,"mse":0.01693},{"serie":"Adam","epoca":2,"mse":0.01677},{"serie":"Adam","epoca":3,"mse":0.01665},{"serie":"Adam","epoca":4,"mse":0.01586},{"serie":"Adam","epoca":5,"mse":0.01468},{"serie":"Adam","epoca":6,"mse":0.01451},{"serie":"Adam","epoca":7,"mse":0.01441},{"serie":"Adam","epoca":8,"mse":0.01435},{"serie":"Adam","epoca":9,"mse":0.01433},{"serie":"Adam","epoca":10,"mse":0.01433},{"serie":"Adam","epoca":11,"mse":0.01427},{"serie":"Adam","epoca":12,"mse":0.01421},{"serie":"Adam","epoca":13,"mse":0.01435},{"serie":"Adam","epoca":14,"mse":0.01447},{"serie":"Adam","epoca":15,"mse":0.01451},{"serie":"Adam","epoca":16,"mse":0.01459},{"serie":"Adam","epoca":17,"mse":0.01471},{"serie":"Adam","epoca":18,"mse":0.01483},{"serie":"Adam","epoca":19,"mse":0.01487},{"serie":"Adam","epoca":20,"mse":0.01498},{"serie":"Adam","epoca":21,"mse":0.01514},{"serie":"Adam","epoca":22,"mse":0.01524},{"serie":"Adam","epoca":23,"mse":0.01534},{"serie":"Adam","epoca":24,"mse":0.01526},{"serie":"Adam","epoca":25,"mse":0.01518},{"serie":"Adam","epoca":26,"mse":0.01513},{"serie":"Adam","epoca":27,"mse":0.01518},{"serie":"Adam","epoca":28,"mse":0.0154},{"serie":"Adam","epoca":29,"mse":0.01558},{"serie":"Adam","epoca":30,"mse":0.01563},{"serie":"Adam","epoca":31,"mse":0.01558},{"serie":"Adam","epoca":32,"mse":0.01544},{"serie":"Adam","epoca":33,"mse":0.01544},{"serie":"Adam","epoca":34,"mse":0.01548},{"serie":"Adam","epoca":35,"mse":0.01548},{"serie":"Adam","epoca":36,"mse":0.01548},{"serie":"Adam","epoca":37,"mse":0.01566},{"serie":"Adam","epoca":38,"mse":0.01591},{"serie":"Adam","epoca":39,"mse":0.01586},{"serie":"Adam","epoca":41,"mse":0.01563},{"serie":"Adam","epoca":42,"mse":0.01566},{"serie":"Adam","epoca":44,"mse":0.01579},{"serie":"Adam","epoca":45,"mse":0.01599},{"serie":"Adam","epoca":48,"mse":0.01599},{"serie":"Adam","epoca":50,"mse":0.01594},{"serie":"Adam","epoca":51,"mse":0.01608},{"serie":"Adam","epoca":52,"mse":0.01625},{"serie":"Adam","epoca":54,"mse":0.01603},{"serie":"Adam","epoca":56,"mse":0.01627},{"serie":"Adam","epoca":58,"mse":0.01619},{"serie":"Adam","epoca":61,"mse":0.01607},{"serie":"Adam","epoca":62,"mse":0.01621},{"serie":"Adam","epoca":63,"mse":0.01645},{"serie":"Adam","epoca":64,"mse":0.01641},{"serie":"Adam","epoca":65,"mse":0.01624},{"serie":"Adam","epoca":67,"mse":0.01641},{"serie":"Adam","epoca":69,"mse":0.01625},{"serie":"Adam","epoca":70,"mse":0.01632},{"serie":"Adam","epoca":72,"mse":0.01645},{"serie":"Adam","epoca":74,"mse":0.01641},{"serie":"Adam","epoca":76,"mse":0.01648},{"serie":"Adam","epoca":78,"mse":0.01643},{"serie":"Adam","epoca":80,"mse":0.01643},{"serie":"Adam","epoca":82,"mse":0.01651},{"serie":"Adam","epoca":84,"mse":0.01665},{"serie":"Adam","epoca":85,"mse":0.01669},{"serie":"Adam","epoca":87,"mse":0.01653},{"serie":"Adam","epoca":89,"mse":0.01671},{"serie":"Adam","epoca":91,"mse":0.01653},{"serie":"Adam","epoca":92,"mse":0.01651},{"serie":"Adam","epoca":94,"mse":0.01669},{"serie":"Adam","epoca":95,"mse":0.01669},{"serie":"Adam","epoca":96,"mse":0.01657},{"serie":"Adam","epoca":98,"mse":0.01671},{"serie":"Adam","epoca":99,"mse":0.01665},{"serie":"Adam","epoca":100,"mse":0.01656}
],
"opt_media": [
{"serie":"SGD","media":0.01645,"etiqueta":"Media: 0.0164 ± 0.0005"},
{"serie":"RMSProp","media":0.01702,"etiqueta":"Media: 0.0170 ± 0.0009"},
{"serie":"Adam","media":0.01588,"etiqueta":"Media: 0.0159 ± 0.0007"}
]
},
"vconcat": [
{
"hconcat": [
{
"width": 448, "height": 205,
"title": {"text": "Tipo de Datos", "offset": 6},
"layer": [
{"data": {"name": "tipo"}, "mark": {"type": "line", "strokeWidth": 2},
 "encoding": {
  "x": {"field": "epoca", "type": "quantitative", "scale": {"domain": [1, 100], "nice": false, "zero": false}, "axis": {"title": "Épocas", "values": [20, 40, 60, 80, 100]}},
  "y": {"field": "mse", "type": "quantitative", "scale": {"domain": [0.0451, 0.1225], "nice": false, "zero": false}, "axis": {"title": "MSE", "values": [0.06, 0.08, 0.1, 0.12], "format": "~g"}},
  "color": {"field": "serie", "type": "nominal", "scale": {"domain": ["Sintéticos", "Experimental y sintéticos", "Experimentales"], "range": ["#1f77b4", "#ff7f0e", "#2ca02c"]},
   "legend": {"title": null, "orient": "none", "legendX": -27.5, "legendY": 251, "direction": "horizontal", "columnPadding": 0, "labelOffset": 3}}
 }},
{"data": {"name": "tipo_media"}, "mark": {"type": "rule", "strokeDash": [9, 6], "strokeWidth": 2},
 "encoding": {"x": {"datum": 1}, "x2": {"datum": 98.5}, "y": {"field": "media", "type": "quantitative"},
  "stroke": {"field": "serie", "type": "nominal", "scale": {"domain": ["Sintéticos", "Experimental y sintéticos", "Experimentales"], "range": ["#1f77b4", "#ff7f0e", "#2ca02c"]}, "legend": null}}},
{"data": {"name": "tipo_media"}, "transform": [{"filter": "datum.serie == 'Sintéticos'"}], "mark": {"type": "text", "align": "right", "baseline": "middle", "fontSize": 17.5},
 "encoding": {"x": {"datum": 94}, "y": {"datum": 0.0708}, "text": {"field": "etiqueta"}, "fill": {"field": "serie", "type": "nominal", "scale": {"domain": ["Sintéticos", "Experimental y sintéticos", "Experimentales"], "range": ["#1f77b4", "#ff7f0e", "#2ca02c"]}, "legend": null}}},
{"data": {"name": "tipo_media"}, "transform": [{"filter": "datum.serie == 'Experimental y sintéticos'"}], "mark": {"type": "text", "align": "right", "baseline": "middle", "fontSize": 17.5},
 "encoding": {"x": {"datum": 94}, "y": {"datum": 0.0622}, "text": {"field": "etiqueta"}, "fill": {"field": "serie", "type": "nominal", "legend": null}}},
{"data": {"name": "tipo_media"}, "transform": [{"filter": "datum.serie == 'Experimentales'"}], "mark": {"type": "text", "align": "right", "baseline": "middle", "fontSize": 17.5},
 "encoding": {"x": {"datum": 94}, "y": {"datum": 0.0535}, "text": {"field": "etiqueta"}, "fill": {"field": "serie", "type": "nominal", "legend": null}}}
]
},
{
"width": 448, "height": 205,
"title": {"text": "Drop-out", "offset": 1, "fontStyle": "italic"},
"layer": [
{"data": {"name": "drop"}, "mark": {"type": "line", "strokeWidth": 2},
 "encoding": {
  "x": {"field": "epoca", "type": "quantitative", "scale": {"domain": [1, 100], "nice": false, "zero": false}, "axis": {"title": "Épocas", "values": [20, 40, 60, 80, 100]}},
  "y": {"field": "mse", "type": "quantitative", "scale": {"domain": [0.0451, 0.1225], "nice": false, "zero": false}, "axis": {"title": "MSE", "values": [0.06, 0.08, 0.1, 0.12], "format": "~g"}},
  "color": {"field": "serie", "type": "nominal", "scale": {"domain": ["50%", "20%", "30%"], "range": ["#f781bf", "#7f7f7f", "#bcbd22"]},
   "legend": {"title": " ", "titleOrient": "right", "titleFontSize": 1, "titlePadding": 33, "orient": "none", "legendX": 3.5, "legendY": 251, "direction": "horizontal", "symbolOffset": 40.5, "columnPadding": 27}}
 }},
{"data": {"name": "drop_media"}, "mark": {"type": "rule", "strokeDash": [9, 6], "strokeWidth": 2},
 "encoding": {"x": {"datum": 1}, "x2": {"datum": 98.5}, "y": {"field": "media", "type": "quantitative"},
  "stroke": {"field": "serie", "type": "nominal", "scale": {"domain": ["50%", "20%", "30%"], "range": ["#f781bf", "#7f7f7f", "#bcbd22"]}, "legend": null}}},
{"data": {"name": "drop_media"}, "transform": [{"filter": "datum.serie == '50%'"}], "mark": {"type": "text", "align": "right", "baseline": "middle", "fontSize": 17.5},
 "encoding": {"x": {"datum": 93.9}, "y": {"datum": 0.0674}, "text": {"field": "etiqueta"}, "fill": {"field": "serie", "type": "nominal", "scale": {"domain": ["50%", "20%", "30%"], "range": ["#f781bf", "#7f7f7f", "#bcbd22"]}, "legend": null}}},
{"data": {"name": "drop_media"}, "transform": [{"filter": "datum.serie == '20%'"}], "mark": {"type": "text", "align": "right", "baseline": "middle", "fontSize": 17.5},
 "encoding": {"x": {"datum": 93.9}, "y": {"datum": 0.0587}, "text": {"field": "etiqueta"}, "fill": {"field": "serie", "type": "nominal", "legend": null}}},
{"data": {"name": "drop_media"}, "transform": [{"filter": "datum.serie == '30%'"}], "mark": {"type": "text", "align": "right", "baseline": "middle", "fontSize": 17.5},
 "encoding": {"x": {"datum": 93.9}, "y": {"datum": 0.0502}, "text": {"field": "etiqueta"}, "fill": {"field": "serie", "type": "nominal", "legend": null}}},
{"data": {"values": [{}]}, "mark": {"type": "rule", "opacity": 0, "strokeWidth": 1},
 "encoding": {"x": {"datum": 100}, "x2": {"datum": 106.2}, "y": {"datum": 0.1}}}
]
}
],
"spacing": 109,
"bounds": "flush",
"resolve": {"scale": {"x": "independent", "y": "independent", "color": "independent", "stroke": "independent", "fill": "independent"}, "legend": {"color": "independent"}}
},
{
"hconcat": [
{
"width": 448, "height": 205,
"title": {"text": "Profundidad", "offset": 3},
"layer": [
{"data": {"name": "prof"}, "mark": {"type": "line", "strokeWidth": 2},
 "encoding": {
  "x": {"field": "epoca", "type": "quantitative", "scale": {"domain": [1, 100], "nice": false, "zero": false}, "axis": {"title": "Épocas", "values": [20, 40, 60, 80, 100]}},
  "y": {"field": "mse", "type": "quantitative", "scale": {"domain": [0.014453, 0.018535], "nice": false, "zero": false}, "axis": {"title": "MSE", "values": [0.015, 0.016, 0.017, 0.018], "format": "~g"}},
  "color": {"field": "serie", "type": "nominal", "scale": {"domain": ["4 capas", "5 capas", "6 capas"], "range": ["#ff2b2b", "#8c564b", "#9467bd"]},
   "legend": {"title": " ", "titleOrient": "right", "titleFontSize": 1, "titlePadding": 54, "orient": "none", "legendX": -2.8, "legendY": 251, "direction": "horizontal", "symbolOffset": 29.5, "columnPadding": 5}}
 }},
{"data": {"name": "prof_media"}, "mark": {"type": "rule", "strokeDash": [9, 6], "strokeWidth": 2},
 "encoding": {"x": {"datum": 1}, "x2": {"datum": 98.5}, "y": {"field": "media", "type": "quantitative"},
  "stroke": {"field": "serie", "type": "nominal", "scale": {"domain": ["4 capas", "5 capas", "6 capas"], "range": ["#ff2b2b", "#8c564b", "#9467bd"]}, "legend": null}}},
{"data": {"name": "prof_media"}, "transform": [{"filter": "datum.serie == '4 capas'"}], "mark": {"type": "text", "align": "right", "baseline": "middle", "fontSize": 17.5},
 "encoding": {"x": {"datum": 95.1}, "y": {"datum": 0.016436}, "text": {"field": "etiqueta"}, "fill": {"field": "serie", "type": "nominal", "scale": {"domain": ["4 capas", "5 capas", "6 capas"], "range": ["#ff2b2b", "#8c564b", "#9467bd"]}, "legend": null}}},
{"data": {"name": "prof_media"}, "transform": [{"filter": "datum.serie == '6 capas'"}], "mark": {"type": "text", "align": "right", "baseline": "middle", "fontSize": 17.5},
 "encoding": {"x": {"datum": 95.1}, "y": {"datum": 0.015972}, "text": {"field": "etiqueta"}, "fill": {"field": "serie", "type": "nominal", "legend": null}}},
{"data": {"name": "prof_media"}, "transform": [{"filter": "datum.serie == '5 capas'"}], "mark": {"type": "text", "align": "right", "baseline": "middle", "fontSize": 17.5},
 "encoding": {"x": {"datum": 95.1}, "y": {"datum": 0.015511}, "text": {"field": "etiqueta"}, "fill": {"field": "serie", "type": "nominal", "legend": null}}}
]
},
{
"width": 448, "height": 205,
"title": {"text": "Optimizador", "offset": 3},
"layer": [
{"data": {"name": "opt"}, "mark": {"type": "line", "strokeWidth": 2},
 "encoding": {
  "x": {"field": "epoca", "type": "quantitative", "scale": {"domain": [1, 100], "nice": false, "zero": false}, "axis": {"title": "Épocas", "values": [20, 40, 60, 80, 100]}},
  "y": {"field": "mse", "type": "quantitative", "scale": {"domain": [0.013983, 0.018871], "nice": false, "zero": false}, "axis": {"title": "MSE", "values": [0.014, 0.015, 0.016, 0.017, 0.018], "format": "~g"}},
  "color": {"field": "serie", "type": "nominal", "scale": {"domain": ["SGD", "RMSProp", "Adam"], "range": ["#17becf", "#1f77b4", "#ff7f0e"]},
   "legend": {"title": null, "orient": "none", "legendX": 8.2, "legendY": 251, "direction": "horizontal", "symbolOffset": 26.5, "columnPadding": 38}}
 }},
{"data": {"name": "opt_media"}, "mark": {"type": "rule", "strokeDash": [9, 6], "strokeWidth": 2},
 "encoding": {"x": {"datum": 1}, "x2": {"datum": 98.5}, "y": {"field": "media", "type": "quantitative"},
  "stroke": {"field": "serie", "type": "nominal", "scale": {"domain": ["SGD", "RMSProp", "Adam"], "range": ["#17becf", "#1f77b4", "#ff7f0e"]}, "legend": null}}},
{"data": {"name": "opt_media"}, "transform": [{"filter": "datum.serie == 'SGD'"}], "mark": {"type": "text", "align": "right", "baseline": "middle", "fontSize": 17.5},
 "encoding": {"x": {"datum": 95.1}, "y": {"datum": 0.01534}, "text": {"field": "etiqueta"}, "fill": {"field": "serie", "type": "nominal", "scale": {"domain": ["SGD", "RMSProp", "Adam"], "range": ["#17becf", "#1f77b4", "#ff7f0e"]}, "legend": null}}},
{"data": {"name": "opt_media"}, "transform": [{"filter": "datum.serie == 'RMSProp'"}], "mark": {"type": "text", "align": "right", "baseline": "middle", "fontSize": 17.5},
 "encoding": {"x": {"datum": 95.1}, "y": {"datum": 0.01477}, "text": {"field": "etiqueta"}, "fill": {"field": "serie", "type": "nominal", "legend": null}}},
{"data": {"name": "opt_media"}, "transform": [{"filter": "datum.serie == 'Adam'"}], "mark": {"type": "text", "align": "right", "baseline": "middle", "fontSize": 17.5},
 "encoding": {"x": {"datum": 95.1}, "y": {"datum": 0.01423}, "text": {"field": "etiqueta"}, "fill": {"field": "serie", "type": "nominal", "legend": null}}}
]
}
],
"spacing": 118,
"bounds": "flush",
"resolve": {"scale": {"x": "independent", "y": "independent", "color": "independent", "stroke": "independent", "fill": "independent"}, "legend": {"color": "independent"}}
}
],
"spacing": 50.5,
"center": true,
"resolve": {"scale": {"x": "independent", "y": "independent", "color": "independent", "stroke": "independent", "fill": "independent"}, "legend": {"color": "independent"}},
"config": {
 "font": "Liberation Serif",
 "view": {"fill": "#E5ECF6", "stroke": null},
 "axis": {"domain": false, "ticks": false, "grid": true, "gridColor": "#ffffff", "gridWidth": 1, "labelFont": "Liberation Serif", "labelFontSize": 18, "labelColor": "#000000", "titleFont": "Liberation Serif", "titleFontSize": 21, "titleFontWeight": "normal", "titleColor": "#000000"},
 "axisX": {"labelPadding": 5, "titlePadding": 0, "labelFlush": false},
 "axisY": {"labelPadding": 3, "titlePadding": 10},
 "title": {"font": "Liberation Serif", "fontSize": 21, "fontWeight": "normal", "color": "#000000", "anchor": "middle"},
 "text": {"font": "Liberation Serif"},
 "legend": {"labelFont": "Liberation Serif", "labelFontSize": 17.5, "labelColor": "#000000", "labelLimit": 400, "symbolType": "stroke", "symbolSize": 625, "symbolStrokeWidth": 2, "labelOffset": 4, "padding": 13.5, "strokeColor": "#222222", "strokeWidth": 2}
}
}
